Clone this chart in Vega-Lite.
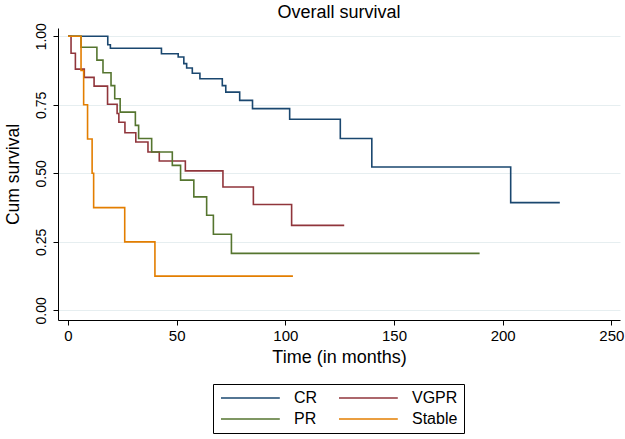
{
  "$schema": "https://vega.github.io/schema/vega-lite/v6.json",
  "autosize": {"type": "none"},
  "padding": {"left": 58, "top": 28, "right": 5, "bottom": 119},
  "width": 562,
  "height": 292,
  "background": "white",
  "title": {"text": "Overall survival", "font": "Liberation Sans", "fontSize": 18, "fontWeight": "normal", "color": "black", "anchor": "middle", "offset": 1},
  "data": {"values": [
    {"g": "CR", "t": 0, "s": 1},
    {"g": "CR", "t": 18.3, "s": 0.969},
    {"g": "CR", "t": 19.5, "s": 0.956},
    {"g": "CR", "t": 43, "s": 0.936},
    {"g": "CR", "t": 50.7, "s": 0.924},
    {"g": "CR", "t": 53.3, "s": 0.9},
    {"g": "CR", "t": 54.6, "s": 0.884},
    {"g": "CR", "t": 57.2, "s": 0.865},
    {"g": "CR", "t": 60.7, "s": 0.845},
    {"g": "CR", "t": 71, "s": 0.82},
    {"g": "CR", "t": 72.6, "s": 0.796},
    {"g": "CR", "t": 79, "s": 0.766},
    {"g": "CR", "t": 84.9, "s": 0.736},
    {"g": "CR", "t": 102, "s": 0.697},
    {"g": "CR", "t": 125.3, "s": 0.627},
    {"g": "CR", "t": 139.8, "s": 0.523},
    {"g": "CR", "t": 203.7, "s": 0.393},
    {"g": "CR", "t": 226.3, "s": 0.393},
    {"g": "VGPR", "t": 0, "s": 1},
    {"g": "VGPR", "t": 1.4, "s": 0.938},
    {"g": "VGPR", "t": 3.4, "s": 0.88},
    {"g": "VGPR", "t": 7.5, "s": 0.85},
    {"g": "VGPR", "t": 12, "s": 0.818},
    {"g": "VGPR", "t": 18.2, "s": 0.752},
    {"g": "VGPR", "t": 22.6, "s": 0.718},
    {"g": "VGPR", "t": 23.4, "s": 0.686},
    {"g": "VGPR", "t": 26.2, "s": 0.648},
    {"g": "VGPR", "t": 31.2, "s": 0.614},
    {"g": "VGPR", "t": 36.8, "s": 0.578},
    {"g": "VGPR", "t": 42, "s": 0.545},
    {"g": "VGPR", "t": 54, "s": 0.509},
    {"g": "VGPR", "t": 71.3, "s": 0.45},
    {"g": "VGPR", "t": 85.3, "s": 0.386},
    {"g": "VGPR", "t": 102.9, "s": 0.31},
    {"g": "VGPR", "t": 127.1, "s": 0.31},
    {"g": "PR", "t": 0, "s": 1},
    {"g": "PR", "t": 6, "s": 0.96},
    {"g": "PR", "t": 13.3, "s": 0.913},
    {"g": "PR", "t": 16.1, "s": 0.867},
    {"g": "PR", "t": 19.8, "s": 0.82},
    {"g": "PR", "t": 21.5, "s": 0.772},
    {"g": "PR", "t": 24, "s": 0.723},
    {"g": "PR", "t": 31, "s": 0.675},
    {"g": "PR", "t": 32.5, "s": 0.627},
    {"g": "PR", "t": 38.5, "s": 0.578},
    {"g": "PR", "t": 48, "s": 0.529},
    {"g": "PR", "t": 51.8, "s": 0.475},
    {"g": "PR", "t": 57.9, "s": 0.414},
    {"g": "PR", "t": 63.8, "s": 0.347},
    {"g": "PR", "t": 66.9, "s": 0.278},
    {"g": "PR", "t": 75.2, "s": 0.208},
    {"g": "PR", "t": 189.4, "s": 0.208},
    {"g": "Stable", "t": 0, "s": 1},
    {"g": "Stable", "t": 6, "s": 0.875},
    {"g": "Stable", "t": 7.2, "s": 0.75},
    {"g": "Stable", "t": 9, "s": 0.625},
    {"g": "Stable", "t": 11.1, "s": 0.5},
    {"g": "Stable", "t": 11.8, "s": 0.375},
    {"g": "Stable", "t": 26.1, "s": 0.25},
    {"g": "Stable", "t": 40, "s": 0.125},
    {"g": "Stable", "t": 103.5, "s": 0.125}
  ]},
  "mark": {"type": "line", "interpolate": "step-after", "strokeWidth": 1.6},
  "encoding": {
    "x": {"field": "t", "type": "quantitative",
      "scale": {"domain": [-4.6, 254], "nice": false, "zero": false},
      "axis": {"title": "Time (in months)", "values": [0, 50, 100, 150, 200, 250], "grid": false,
        "domainColor": "black", "tickColor": "black", "tickSize": 5, "labelPadding": 3,
        "labelFont": "Liberation Sans", "labelFontSize": 15, "labelColor": "black",
        "titleFont": "Liberation Sans", "titleFontSize": 18, "titleFontWeight": "normal", "titleColor": "black", "titlePadding": 5}},
    "y": {"field": "s", "type": "quantitative",
      "scale": {"domain": [-0.035, 1.03], "nice": false, "zero": false},
      "axis": {"title": "Cum survival", "values": [0, 0.25, 0.5, 0.75, 1], "format": ".2f",
        "grid": true, "gridColor": "#e6eef0", "gridWidth": 1,
        "domainColor": "black", "tickColor": "black", "tickSize": 5, "labelPadding": 5,
        "labelAngle": -90, "labelAlign": "center", "labelBaseline": "bottom",
        "labelFont": "Liberation Sans", "labelFontSize": 14, "labelColor": "black",
        "titleFont": "Liberation Sans", "titleFontSize": 17.5, "titleFontWeight": "normal", "titleColor": "black", "titlePadding": 12}},
    "color": {"field": "g", "type": "nominal",
      "scale": {"domain": ["CR", "VGPR", "PR", "Stable"], "range": ["#1a476f", "#90353b", "#55752f", "#e37e00"]},
      "legend": {"title": null, "orient": "none", "legendX": 155, "legendY": 356, "direction": "horizontal", "columns": 2,
        "symbolType": "M-1,0H8.8", "symbolSize": 144, "symbolStrokeWidth": 1.6, "symbolFillColor": "transparent",
        "labelFont": "Liberation Sans", "labelFontSize": 16, "labelColor": "black", "labelOffset": 59,
        "columnPadding": 17, "rowPadding": 5, "padding": 6, "strokeColor": "black", "fillColor": "white"}}
  },
  "config": {"view": {"stroke": null}}
}
